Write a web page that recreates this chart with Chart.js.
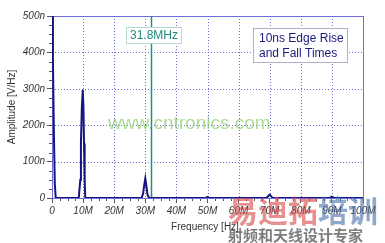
<!DOCTYPE html>
<html><head><meta charset="utf-8">
<script src="https://cdn.jsdelivr.net/npm/chart.js@4"></script>
<style>
html,body{margin:0;padding:0;background:#fff;}
#wrap{position:relative;width:385px;height:243px;}
canvas{display:block;}
</style></head>
<body><div id="wrap"><canvas id="c" width="385" height="243"></canvas></div>
<script>
// Frequency in MHz, amplitude in nV/Hz
const freqMHz = [0, 0.3, 0.6, 0.9, 1.2, 8.6, 8.8, 9.1, 9.3, 9.6, 9.9, 10.1, 10.3, 10.5, 10.7, 28.8, 29.3, 29.7, 30.0, 30.3, 30.7, 31.2, 49.4, 50.0, 50.6, 69.0, 69.6, 70.0, 70.4, 71.0, 89.2, 90.0, 90.8, 100];
const amplitude = [540, 380, 180, 40, 0, 0, 20, 50, 150, 250, 297, 250, 150, 50, 0, 0, 12, 38, 54, 36, 10, 0, 0, 3, 0, 0, 6, 9, 5, 0, 0, 4, 0, 0];
const markerFreq = 31.8;
const markerLabel = "31.8MHz";
const noteLines = ["10ns Edge Rise", "and Fall Times"];
const yTicks = [0, 100, 200, 300, 400, 500];
const xTicks = [0, 10, 20, 30, 40, 50, 60, 70, 80, 90, 100];

const FONT = "'Liberation Sans', Arial, sans-serif";
const GRID = '#6e6ed6';

const boxPlugin = {
  id: 'box',
  beforeDatasetsDraw(chart) {
    const {ctx, chartArea: a, scales: {x, y}} = chart;
    ctx.save();
    // dotted grid
    ctx.strokeStyle = GRID;
    ctx.lineWidth = 1;
    ctx.setLineDash([1, 2]);
    yTicks.slice(1, -1).forEach(v => {
      const py = Math.round(y.getPixelForValue(v)) + 0.5;
      ctx.beginPath(); ctx.moveTo(a.left, py); ctx.lineTo(a.right, py); ctx.stroke();
    });
    xTicks.slice(1, -1).forEach(v => {
      const px = Math.round(x.getPixelForValue(v)) + 0.5;
      ctx.beginPath(); ctx.moveTo(px, a.top); ctx.lineTo(px, a.bottom); ctx.stroke();
    });
    ctx.setLineDash([]);
    // minor ticks
    ctx.strokeStyle = '#555';
    for (let i = 0; i < yTicks.length - 1; i++) {
      for (let k = 1; k < 4; k++) {
        const v = yTicks[i] + (yTicks[i+1] - yTicks[i]) * k / 4;
        const py = Math.round(y.getPixelForValue(v)) + 0.5;
        ctx.beginPath(); ctx.moveTo(a.left - 3, py); ctx.lineTo(a.left, py); ctx.stroke();
      }
    }
    for (let i = 0; i < xTicks.length - 1; i++) {
      for (let k = 1; k < 4; k++) {
        const v = xTicks[i] + (xTicks[i+1] - xTicks[i]) * k / 4;
        const px = Math.round(x.getPixelForValue(v)) + 0.5;
        ctx.beginPath(); ctx.moveTo(px, a.bottom); ctx.lineTo(px, a.bottom + 3); ctx.stroke();
      }
    }
    // plot frame
    ctx.strokeStyle = '#6f6fd8';
    ctx.strokeRect(Math.round(a.left) + 0.5, Math.round(a.top) + 0.5, Math.round(a.right - a.left), Math.round(a.bottom - a.top));
    // watermark
    ctx.font = "19px " + FONT;
    ctx.fillStyle = 'rgba(140,205,105,0.7)';
    ctx.textAlign = 'left'; ctx.textBaseline = 'alphabetic';
    ctx.fillText('www.cntronics.com', 108, 129);
    // marker line
    const mx = Math.round(x.getPixelForValue(markerFreq)) + 0.5;
    ctx.strokeStyle = '#1f9080';
    ctx.lineWidth = 1.5;
    ctx.beginPath(); ctx.moveTo(mx, a.top); ctx.lineTo(mx, a.bottom); ctx.stroke();
    ctx.restore();
  },
  afterDatasetsDraw(chart) {
    const {ctx} = chart;
    ctx.save();
    // marker label box
    ctx.fillStyle = '#fff';
    ctx.fillRect(126, 27, 56, 17);
    ctx.strokeStyle = '#b8d8d0';
    ctx.lineWidth = 1;
    ctx.strokeRect(126.5, 27.5, 55, 16);
    ctx.font = "12px " + FONT;
    ctx.fillStyle = '#1f8a7c';
    ctx.textAlign = 'center'; ctx.textBaseline = 'middle';
    ctx.fillText(markerLabel, 154, 36);
    // note box
    ctx.fillStyle = '#fff';
    ctx.fillRect(253, 28, 95, 35);
    ctx.strokeStyle = '#b0b0c8';
    ctx.strokeRect(253.5, 28.5, 94, 34);
    ctx.font = "12px " + FONT;
    ctx.fillStyle = '#1a1a80';
    ctx.textAlign = 'left';
    ctx.fillText(noteLines[0], 259, 39);
    ctx.fillText(noteLines[1], 259, 54);
    // axis titles
    ctx.fillStyle = '#333';
    ctx.font = "10px " + FONT;
    ctx.textAlign = 'center';
    ctx.fillText('Frequency [Hz]', 205, 227);
    ctx.translate(12, 107); ctx.rotate(-Math.PI / 2);
    ctx.fillText('Amplitude [V/Hz]', 0, 0);
    ctx.setTransform(1, 0, 0, 1, 0, 0);
    // bottom-right watermark
    ctx.textAlign = 'left'; ctx.textBaseline = 'alphabetic';
    ctx.font = "bold 30px 'Noto Sans CJK SC', sans-serif";
    ctx.fillStyle = 'rgba(215,70,70,0.6)';
    ctx.fillText('易迪拓', 228, 222);
    ctx.fillStyle = 'rgba(70,110,170,0.6)';
    ctx.fillText('培训', 318, 222);
    ctx.font = "bold 15px 'Noto Sans CJK SC', sans-serif";
    ctx.fillStyle = 'rgba(80,80,80,0.75)';
    ctx.fillText('射频和天线设计专家', 228, 241);
    ctx.restore();
  }
};

new Chart(document.getElementById('c'), {
  type: 'line',
  data: {
    datasets: [{
      data: freqMHz.map((f, i) => ({x: f, y: amplitude[i]})),
      borderColor: '#15157e',
      borderWidth: 2,
      pointRadius: 0,
      tension: 0,
      fill: false
    }]
  },
  options: {
    responsive: false,
    animation: false,
    events: [],
    layout: {padding: {top: 16, right: 22, left: 0, bottom: 0}},
    plugins: {legend: {display: false}, tooltip: {enabled: false}},
    scales: {
      x: {
        type: 'linear', min: 0, max: 100,
        afterFit(s) { s.height = 45; },
        afterBuildTicks(s) { s.ticks = xTicks.map(v => ({value: v})); },
        ticks: {
          color: '#333', padding: 2, maxRotation: 0, autoSkip: false,
          font: {family: FONT, size: 10, style: 'italic'},
          callback: v => v === 0 ? '0' : v + 'M'
        },
        grid: {drawOnChartArea: false, tickColor: '#555', tickLength: 5},
        border: {display: false}
      },
      y: {
        type: 'linear', min: 0, max: 500,
        afterFit(s) { s.width = 52; },
        afterBuildTicks(s) { s.ticks = yTicks.map(v => ({value: v})); },
        ticks: {
          color: '#333', padding: 2,
          font: {family: FONT, size: 10, style: 'italic'},
          callback: v => v === 0 ? '0' : v + 'n'
        },
        grid: {drawOnChartArea: false, tickColor: '#555', tickLength: 5},
        border: {display: false}
      }
    }
  },
  plugins: [boxPlugin]
});
</script></body></html>
